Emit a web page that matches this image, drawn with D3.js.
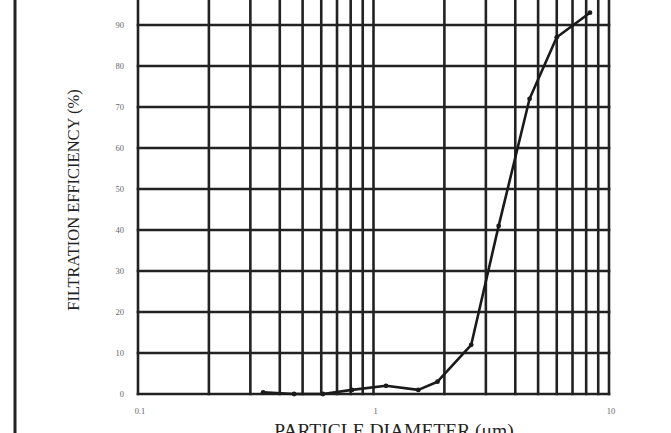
<!DOCTYPE html>
<html>
<head>
<meta charset="utf-8">
<script src="https://cdn.jsdelivr.net/npm/d3@7"></script>
<style>
  body { margin: 0; background: #fff; }
  .grid { stroke: #222; stroke-width: 2.6; }
  .tick-label { font-family: 'Liberation Serif', serif; font-size: 8.5px; fill: #666; }
  .axis-title { font-family: 'Liberation Serif', serif; fill: #222; }
</style>
</head>
<body>
<div id="chart"></div>
<script>
// Data
let diameters = [0.34, 0.46, 0.61, 0.81, 1.13, 1.55, 1.87, 2.6, 3.4, 4.6, 6.0, 8.3];
let efficiency = [0.4, 0, 0, 1.0, 2.0, 1.0, 3.0, 12, 41, 72, 87, 93];
let xTickLabels = [0.1, 1, 10];
let yTickLabels = [0, 10, 20, 30, 40, 50, 60, 70, 80, 90];

let width = 671, height = 433;

let scX = d3.scaleLog().domain([0.1, 10]).range([138, 609]);
let scY = d3.scaleLinear().domain([0, 100]).range([394, -16]);

let svg = d3.select('#chart')
    .append('svg')
        .attr('width', width)
        .attr('height', height);

// Left frame line
svg.append('line')
    .attr('x1', 15).attr('x2', 15)
    .attr('y1', 0).attr('y2', height)
    .attr('stroke', '#222')
    .attr('stroke-width', 3);

// Vertical gridlines (0.1, 0.2 ... 1, 2 ... 10)
svg.selectAll('line.vgrid')
    .data(scX.ticks())
    .enter()
    .append('line')
        .attr('class', 'grid vgrid')
        .attr('x1', d => scX(d))
        .attr('x2', d => scX(d))
        .attr('y1', scY(100))
        .attr('y2', scY(0) + 1.3);

// Horizontal gridlines
svg.selectAll('line.hgrid')
    .data(d3.range(0, 101, 10))
    .enter()
    .append('line')
        .attr('class', 'grid hgrid')
        .attr('x1', scX(0.1) - 1.3)
        .attr('x2', scX(10) + 1.3)
        .attr('y1', d => scY(d))
        .attr('y2', d => scY(d));

// Tick labels
svg.selectAll('text.ylab')
    .data(yTickLabels)
    .enter()
    .append('text')
        .attr('class', 'tick-label')
        .attr('text-anchor', 'end')
        .attr('x', 124)
        .attr('y', d => scY(d))
        .attr('dy', '0.32em')
        .text(d => d);

svg.selectAll('text.xlab')
    .data(xTickLabels)
    .enter()
    .append('text')
        .attr('class', 'tick-label')
        .attr('text-anchor', 'middle')
        .attr('x', d => scX(d) + 2)
        .attr('y', 414)
        .text(d => d);

// Axis titles (the x title runs off the bottom edge, as in the source)
svg.append('text')
    .attr('class', 'axis-title')
    .attr('text-anchor', 'middle')
    .attr('x', 394)
    .attr('y', 437)
    .attr('font-size', '19.5px')
    .text('PARTICLE DIAMETER (μm)');

svg.append('text')
    .attr('class', 'axis-title')
    .attr('text-anchor', 'middle')
    .attr('transform', 'rotate(-90)')
    .attr('x', -200)
    .attr('y', 79)
    .attr('font-size', '16.5px')
    .text('FILTRATION EFFICIENCY (%)');

// Curve
let points = diameters.map((d, i) => ({x: d, y: efficiency[i]}));
let plotLine = d3.line()
    .x(d => scX(d.x))
    .y(d => scY(d.y));

svg.append('path')
    .attr('d', plotLine(points))
    .attr('fill', 'none')
    .attr('stroke', '#1a1a1a')
    .attr('stroke-width', 2.6)
    .attr('stroke-linejoin', 'round');

svg.selectAll('circle')
    .data(points)
    .enter()
    .append('circle')
        .attr('r', 2.4)
        .attr('cx', d => scX(d.x))
        .attr('cy', d => scY(d.y))
        .attr('fill', '#1a1a1a');
</script>
</body>
</html>
